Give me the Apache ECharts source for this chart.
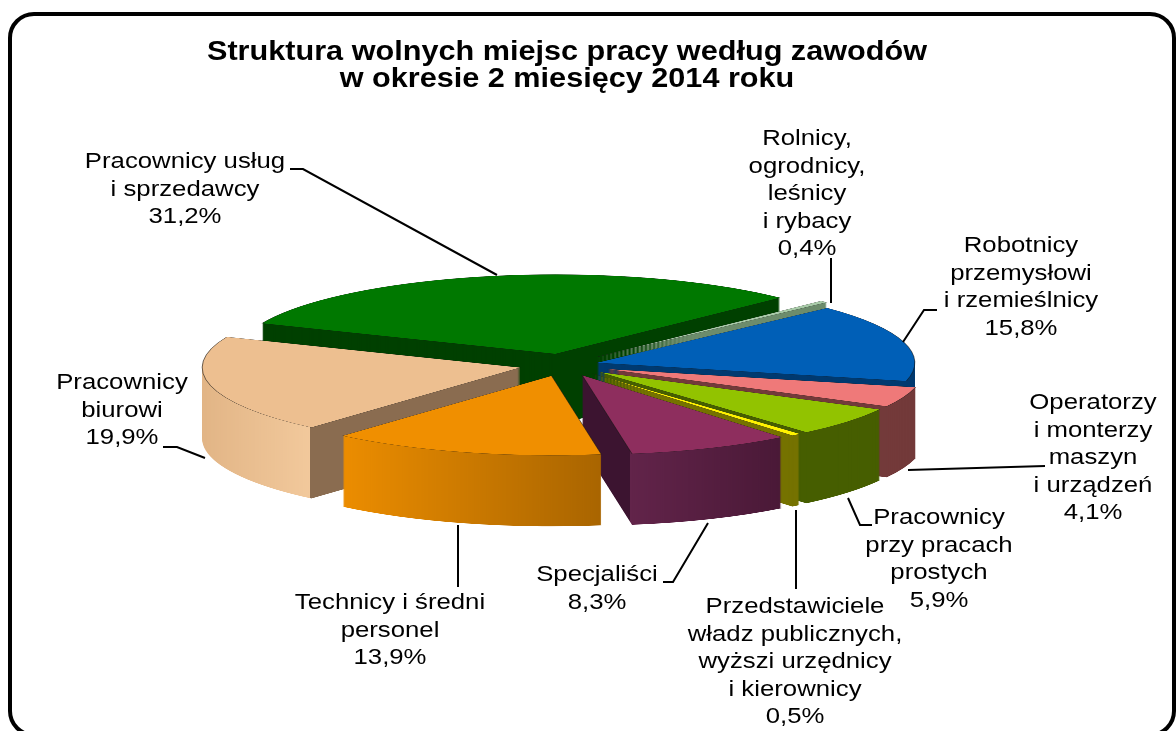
<!DOCTYPE html>
<html lang="pl">
<head>
<meta charset="utf-8">
<title>Struktura wolnych miejsc pracy według zawodów</title>
<script src="https://cdn.jsdelivr.net/npm/echarts@6/dist/echarts.min.js"></script>
<style>
    html, body { margin: 0; padding: 0; background: #fff; overflow: hidden; }
    #wrap { position: relative; width: 1176px; height: 731px; overflow: hidden; }
    /* tort rysowany jako koło i spłaszczony w pionie -> elipsa 3D */
    #pie { position: absolute; left: 0; top: 0; width: 1176px; height: 2924px; transform-origin: 0 0; transform: scaleY(0.25); }
    #labels { position: absolute; left: 0; top: 0; width: 1176px; height: 731px; }
</style>
</head>
<body>
<div id="wrap">
    <div id="pie"></div>
    <div id="labels"></div>
</div>
<script>
// dane - struktura wolnych miejsc pracy wg zawodów (%)
const categories = [
    'Rolnicy,\nogrodnicy,\nleśnicy\ni rybacy',
    'Robotnicy\nprzemysłowi\ni rzemieślnicy',
    'Operatorzy\ni monterzy\nmaszyn\ni urządzeń',
    'Pracownicy\nprzy pracach\nprostych',
    'Przedstawiciele\nwładz publicznych,\nwyższi urzędnicy\ni kierownicy',
    'Specjaliści',
    'Technicy i średni\npersonel',
    'Pracownicy\nbiurowi',
    'Pracownicy usług\ni sprzedawcy',
]
const values = [0.4, 15.8, 4.1, 5.9, 0.5, 8.3, 13.9, 19.9, 31.2]
const titleText = 'Struktura wolnych miejsc pracy według zawodów\nw okresie 2 miesięcy 2014 roku'

// wygląd
const SQUASH = 0.25
const PIE_CX = 564
const PIE_CY = 365
const PIE_R = 318
const PIE_DEPTH = 71
const START_ANGLE = 45
const explode = [45, 34, 45, 45, 45, 45, 45, 45, 45]

const hGrad = (stops) => ({
    type: 'linear', x: 0, y: 0, x2: 1, y2: 0,
    colorStops: stops.map(([o, c]) => ({ offset: o, color: c })),
})
const topColors = ['#A8CAA8', '#005FB7', '#EF7979', '#92C300', '#FFF200', '#8E2E5E', '#F08F00', '#EDBF90', '#007800']
const sideColors = [
    '#6C8C6C',
    '#003A70',
    '#733A3A',
    '#465E00',
    '#757200',
    hGrad([[0, '#3C1430'], [0.24, '#3C1430'], [0.24, '#62244A'], [1, '#4A1937']]),
    hGrad([[0, '#EC8D00'], [1, '#A96500']]),
    hGrad([[0, '#E2B586'], [0.34, '#F2C99C'], [0.34, '#8A6C50'], [1, '#8A6C50']]),
    '#004000',
]

// jedna warstwa tortu (boki = wiele warstw przesuniętych w dół)
function pieLayer(screenY, colors, withBorder, offset, z) {
    const border = withBorder ? { borderColor: 'rgba(20,20,20,0.6)', borderWidth: 1 } : { borderWidth: 0 }
    const hidden = { color: 'rgba(0,0,0,0)', borderWidth: 0 }
    return {
        type: 'pie',
        silent: true,
        z: z,
        center: [PIE_CX, screenY / SQUASH],
        radius: PIE_R,
        startAngle: START_ANGLE,
        clockwise: true,
        selectedMode: 'multiple',
        selectedOffset: offset,
        avoidLabelOverlap: false,
        label: { show: false },
        labelLine: { show: false },
        emphasis: { disabled: true },
        itemStyle: border,
        select: { itemStyle: border },
        data: values.map((v, i) => {
            const mine = explode[i] === offset
            return {
                name: categories[i],
                value: v,
                selected: true,
                itemStyle: mine ? { color: colors[i] } : hidden,
                select: { itemStyle: mine ? { color: colors[i] } : hidden },
            }
        }),
    }
}

const offsets = [...new Set(explode)]
const pieSeries = []
let z = 1
for (let k = PIE_DEPTH; k >= 1; k--) {
    offsets.forEach(o => pieSeries.push(pieLayer(PIE_CY + k, sideColors, false, o, z++)))
}
offsets.forEach(o => pieSeries.push(pieLayer(PIE_CY, topColors, true, o, z++)))

const pieChart = echarts.init(document.getElementById('pie'))
pieChart.setOption({
    animation: false,
    backgroundColor: 'transparent',
    series: pieSeries,
})

// etykiety i linie odniesienia
const FONT = '"Liberation Sans", Arial, sans-serif'
const LABEL_LH = 27.5
const labelAnchor = [[807, 139], [1021, 246], [1093, 403], [939, 518], [795, 607], [597, 575], [390, 603], [122, 383], [185, 162]]
const leaderLines = [
    [[831, 258], [831, 303]],
    [[937, 310], [924, 310], [903, 342]],
    [[1045, 466], [908, 470]],
    [[848, 498], [860, 525], [872, 525]],
    [[796, 510], [796, 589]],
    [[663, 582], [673, 582], [708, 523]],
    [[458, 525], [458, 587]],
    [[163, 447], [177, 447], [205, 458]],
    [[290, 169], [303, 169], [497, 275]],
]
const fmt = v => v.toFixed(1).replace('.', ',') + '%'

const elements = [{
    type: 'rect',
    shape: { x: 10, y: 14, width: 1164, height: 721, r: 24 },
    style: { fill: 'transparent', stroke: '#000', lineWidth: 4 },
}, {
    // tytuł (lekko rozciągnięty w poziomie jak w oryginale)
    type: 'text',
    x: 567,
    y: 38.5,
    scaleX: 1.094,
    style: {
        text: titleText,
        fill: '#000',
        fontSize: 28,
        fontWeight: 'bold',
        fontFamily: FONT,
        lineHeight: 27,
        align: 'center',
        textAlign: 'center',
        verticalAlign: 'top',
        textVerticalAlign: 'top',
    },
}]
values.forEach((v, i) => {
    elements.push({
        type: 'polyline',
        shape: { points: leaderLines[i] },
        style: { stroke: '#000', lineWidth: 2, fill: null },
    })
    elements.push({
        type: 'text',
        x: labelAnchor[i][0],
        y: labelAnchor[i][1] - LABEL_LH / 2,
        scaleX: 1.17,
        style: {
            text: categories[i] + '\n' + fmt(v),
            fill: '#000',
            fontSize: 22,
            fontFamily: FONT,
            lineHeight: LABEL_LH,
            align: 'center',
            textAlign: 'center',
            verticalAlign: 'top',
            textVerticalAlign: 'top',
        },
    })
})

const labelChart = echarts.init(document.getElementById('labels'))
labelChart.setOption({
    animation: false,
    backgroundColor: 'transparent',
    graphic: { elements: elements },
})
window.addEventListener('resize', () => { pieChart.resize(); labelChart.resize() })
</script>
</body>
</html>
